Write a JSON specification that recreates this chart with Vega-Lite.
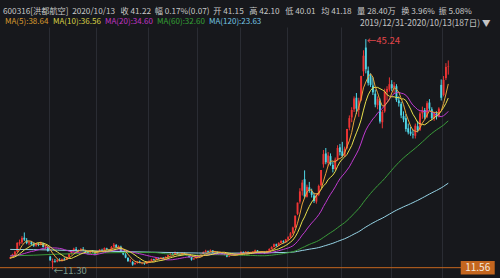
{
"$schema":"https://vega.github.io/schema/vega-lite/v6.json",
"width":470,"height":251,
"autosize":{"type":"none"},
"padding":{"left":0,"top":27,"right":30,"bottom":0},
"background":"#17181c",
"config":{"view":{"stroke":null},"font":"Noto Sans CJK SC","axis":{"labelFont":"Noto Sans CJK SC","titleFont":"Noto Sans CJK SC"},"legend":{"labelFont":"Noto Sans CJK SC"}},
"title":{"text":"600316[洪都航空]\u00a0\u00a02020/10/13\u00a0\u00a0\u00a0收\u00a041.22\u00a0\u00a0幅\u00a00.17%(0.07)\u00a0\u00a0开\u00a041.15\u00a0\u00a0\u00a0高\u00a042.10\u00a0\u00a0\u00a0低\u00a040.01\u00a0\u00a0\u00a0均\u00a041.18\u00a0\u00a0\u00a0量\u00a028.40万\u00a0\u00a0\u00a0换\u00a03.96%\u00a0\u00a0振\u00a05.08%","anchor":"start","frame":"group","color":"#c8c8c8","fontSize":8.2,"fontWeight":"normal","offset":2,"dx":3},
"datasets":{
"k":[
{"i":0,"o":12.95,"h":13.12,"l":12.85,"c":13.05,"m5":12.95,"m10":13.0,"m20":13.3,"m60":13.3,"m120":14.25},
{"i":1,"o":13.08,"h":13.62,"l":13.0,"c":13.52,"m5":13.1,"m10":13.05,"m20":13.32},
{"i":2,"o":13.5,"h":14.05,"l":13.42,"c":13.92,"m5":13.3,"m10":13.15,"m20":13.35},
{"i":3,"o":13.95,"h":15.31,"l":13.88,"c":15.21,"m5":13.7,"m10":13.35,"m20":13.4},
{"i":4,"o":15.1,"h":15.7,"l":14.8,"c":15.35,"m5":14.21,"m10":13.6,"m20":13.45},
{"i":5,"o":15.3,"h":16.2,"l":15.05,"c":15.95,"m5":14.79,"m10":13.87,"m20":13.55},
{"i":6,"o":15.98,"h":16.75,"l":15.5,"c":15.7,"m5":15.23,"m10":14.17,"m20":13.65},
{"i":7,"o":15.6,"h":15.92,"l":15.02,"c":15.2,"m5":15.48,"m10":14.39,"m20":13.75},
{"i":8,"o":15.15,"h":15.5,"l":14.85,"c":15.32,"m5":15.5,"m10":14.6,"m20":13.85},
{"i":9,"o":15.3,"h":15.48,"l":14.92,"c":15.02,"m5":15.44,"m10":14.83,"m20":13.95},
{"i":10,"o":15.0,"h":15.28,"l":14.62,"c":14.8,"m5":15.21,"m10":15.0,"m20":14.0,"m60":13.4,"m120":14.22},
{"i":11,"o":14.82,"h":15.2,"l":14.65,"c":15.05,"m5":15.08,"m10":15.16,"m20":14.11},
{"i":12,"o":15.02,"h":15.22,"l":14.72,"c":14.9,"m5":15.02,"m10":15.25,"m20":14.2},
{"i":13,"o":14.92,"h":15.4,"l":14.85,"c":15.22,"m5":15.0,"m10":15.25,"m20":14.3},
{"i":14,"o":15.15,"h":15.22,"l":14.52,"c":14.62,"m5":14.92,"m10":15.18,"m20":14.39},
{"i":15,"o":14.6,"h":14.92,"l":14.3,"c":14.72,"m5":14.9,"m10":15.06,"m20":14.47},
{"i":16,"o":14.65,"h":14.7,"l":13.9,"c":14.02,"m5":14.7,"m10":14.89,"m20":14.53},
{"i":17,"o":13.2,"h":13.3,"l":12.62,"c":12.62,"m5":14.24,"m10":14.63,"m20":14.51},
{"i":18,"o":12.35,"h":12.9,"l":11.3,"c":12.55,"m5":13.71,"m10":14.36,"m20":14.48},
{"i":19,"o":12.55,"h":12.85,"l":12.3,"c":12.45,"m5":13.27,"m10":14.1,"m20":14.47},
{"i":20,"o":12.45,"h":12.8,"l":12.35,"c":12.7,"m5":12.87,"m10":13.89,"m20":14.45,"m60":13.55,"m120":14.15},
{"i":21,"o":12.7,"h":12.95,"l":12.5,"c":12.6,"m5":12.58,"m10":13.64,"m20":14.4},
{"i":22,"o":12.58,"h":12.9,"l":12.45,"c":12.82,"m5":12.62,"m10":13.43,"m20":14.34},
{"i":23,"o":12.85,"h":13.05,"l":12.6,"c":12.75,"m5":12.66,"m10":13.19,"m20":14.22},
{"i":24,"o":12.75,"h":13.2,"l":12.7,"c":13.1,"m5":12.79,"m10":13.03,"m20":14.11},
{"i":25,"o":13.15,"h":13.7,"l":13.05,"c":13.62,"m5":12.98,"m10":12.93,"m20":14.0},
{"i":26,"o":13.65,"h":14.1,"l":13.5,"c":14.0,"m5":13.26,"m10":12.92,"m20":13.91},
{"i":27,"o":14.0,"h":14.5,"l":13.85,"c":14.35,"m5":13.56,"m10":13.09,"m20":13.86},
{"i":28,"o":14.3,"h":14.62,"l":13.9,"c":14.05,"m5":13.82,"m10":13.24,"m20":13.8},
{"i":29,"o":14.05,"h":14.25,"l":13.8,"c":14.12,"m5":14.03,"m10":13.41,"m20":13.76},
{"i":30,"o":14.1,"h":14.45,"l":13.95,"c":14.28,"m5":14.16,"m10":13.57,"m20":13.73,"m60":13.65,"m120":14.05},
{"i":31,"o":14.25,"h":14.6,"l":14.0,"c":14.15,"m5":14.19,"m10":13.73,"m20":13.69},
{"i":32,"o":14.12,"h":14.2,"l":13.75,"c":13.88,"m5":14.1,"m10":13.83,"m20":13.63},
{"i":33,"o":13.85,"h":13.95,"l":13.52,"c":13.7,"m5":14.03,"m10":13.93,"m20":13.56},
{"i":34,"o":13.7,"h":14.05,"l":13.6,"c":13.95,"m5":13.99,"m10":14.01,"m20":13.52},
{"i":35,"o":13.95,"h":14.15,"l":13.75,"c":13.9,"m5":13.92,"m10":14.04,"m20":13.49},
{"i":36,"o":13.85,"h":13.92,"l":13.4,"c":13.55,"m5":13.8,"m10":14.0,"m20":13.46},
{"i":37,"o":13.55,"h":14.05,"l":13.5,"c":13.98,"m5":13.82,"m10":13.96,"m20":13.53},
{"i":38,"o":14.0,"h":14.3,"l":13.85,"c":14.2,"m5":13.92,"m10":13.98,"m20":13.61},
{"i":39,"o":14.18,"h":14.35,"l":13.95,"c":14.1,"m5":13.95,"m10":13.97,"m20":13.69},
{"i":40,"o":14.12,"h":14.55,"l":14.05,"c":14.45,"m5":14.06,"m10":13.99,"m20":13.78,"m60":13.74,"m120":13.98},
{"i":41,"o":14.4,"h":14.5,"l":14.1,"c":14.22,"m5":14.19,"m10":14.0,"m20":13.87},
{"i":42,"o":14.1,"h":14.25,"l":13.85,"c":14.02,"m5":14.2,"m10":14.01,"m20":13.92},
{"i":43,"o":14.05,"h":14.75,"l":14.0,"c":14.62,"m5":14.28,"m10":14.1,"m20":14.02},
{"i":44,"o":14.65,"h":15.2,"l":14.55,"c":14.95,"m5":14.45,"m10":14.2,"m20":14.11},
{"i":45,"o":14.9,"h":15.05,"l":14.45,"c":14.55,"m5":14.47,"m10":14.27,"m20":14.16},
{"i":46,"o":14.4,"h":14.85,"l":14.3,"c":14.7,"m5":14.57,"m10":14.38,"m20":14.19},
{"i":47,"o":14.65,"h":14.8,"l":13.85,"c":13.95,"m5":14.55,"m10":14.38,"m20":14.17},
{"i":48,"o":13.9,"h":14.05,"l":13.4,"c":13.52,"m5":14.33,"m10":14.31,"m20":14.15},
{"i":49,"o":13.5,"h":13.7,"l":12.95,"c":13.05,"m5":13.95,"m10":14.2,"m20":14.09},
{"i":50,"o":13.0,"h":13.1,"l":12.4,"c":12.55,"m5":13.55,"m10":14.01,"m20":14.0,"m60":13.8,"m120":13.92},
{"i":51,"o":12.5,"h":12.85,"l":12.35,"c":12.62,"m5":13.14,"m10":13.86,"m20":13.93},
{"i":52,"o":12.4,"h":12.55,"l":11.85,"c":12.02,"m5":12.75,"m10":13.65,"m20":13.83},
{"i":53,"o":12.1,"h":12.35,"l":11.95,"c":12.25,"m5":12.5,"m10":13.42,"m20":13.76},
{"i":54,"o":12.3,"h":12.55,"l":12.15,"c":12.4,"m5":12.37,"m10":13.16,"m20":13.68},
{"i":55,"o":12.45,"h":12.6,"l":12.2,"c":12.32,"m5":12.32,"m10":12.94,"m20":13.61},
{"i":56,"o":12.25,"h":12.4,"l":12.05,"c":12.28,"m5":12.25,"m10":12.7,"m20":13.54},
{"i":57,"o":12.2,"h":12.3,"l":11.98,"c":12.12,"m5":12.27,"m10":12.51,"m20":13.45},
{"i":58,"o":12.15,"h":12.5,"l":12.1,"c":12.42,"m5":12.31,"m10":12.41,"m20":13.36},
{"i":59,"o":12.4,"h":12.62,"l":12.3,"c":12.55,"m5":12.34,"m10":12.36,"m20":13.28,"m60":13.81},
{"i":60,"o":12.55,"h":12.9,"l":12.5,"c":12.82,"m5":12.44,"m10":12.38,"m20":13.2,"m60":13.81,"m120":13.85},
{"i":61,"o":12.8,"h":12.88,"l":12.6,"c":12.7,"m5":12.52,"m10":12.39,"m20":13.13,"m60":13.79},
{"i":62,"o":12.75,"h":13.1,"l":12.7,"c":13.02,"m5":12.7,"m10":12.49,"m20":13.07,"m60":13.78},
{"i":63,"o":13.0,"h":13.05,"l":12.8,"c":12.9,"m5":12.8,"m10":12.56,"m20":12.99,"m60":13.74},
{"i":64,"o":12.92,"h":13.12,"l":12.85,"c":13.05,"m5":12.9,"m10":12.62,"m20":12.89,"m60":13.7},
{"i":65,"o":13.05,"h":13.1,"l":12.82,"c":12.92,"m5":12.92,"m10":12.68,"m20":12.81,"m60":13.65},
{"i":66,"o":12.92,"h":13.22,"l":12.88,"c":13.15,"m5":13.01,"m10":12.77,"m20":12.74,"m60":13.61},
{"i":67,"o":13.15,"h":13.5,"l":13.1,"c":13.42,"m5":13.09,"m10":12.9,"m20":12.71,"m60":13.58},
{"i":68,"o":13.45,"h":13.75,"l":13.35,"c":13.62,"m5":13.23,"m10":13.02,"m20":12.72,"m60":13.55},
{"i":69,"o":13.6,"h":13.7,"l":13.4,"c":13.5,"m5":13.32,"m10":13.11,"m20":12.74,"m60":13.52},
{"i":70,"o":13.5,"h":13.95,"l":13.45,"c":13.82,"m5":13.5,"m10":13.21,"m20":12.8,"m60":13.51,"m120":13.78},
{"i":71,"o":13.8,"h":13.88,"l":13.5,"c":13.6,"m5":13.59,"m10":13.3,"m20":12.85,"m60":13.48},
{"i":72,"o":13.55,"h":13.62,"l":13.3,"c":13.4,"m5":13.59,"m10":13.34,"m20":12.92,"m60":13.46},
{"i":73,"o":13.4,"h":13.8,"l":13.38,"c":13.72,"m5":13.61,"m10":13.42,"m20":12.99,"m60":13.43},
{"i":74,"o":13.7,"h":13.78,"l":13.5,"c":13.6,"m5":13.63,"m10":13.48,"m20":13.05,"m60":13.42},
{"i":75,"o":13.58,"h":13.65,"l":13.35,"c":13.42,"m5":13.55,"m10":13.53,"m20":13.11,"m60":13.39},
{"i":76,"o":13.4,"h":13.45,"l":13.05,"c":13.1,"m5":13.45,"m10":13.52,"m20":13.15,"m60":13.38},
{"i":77,"o":13.1,"h":13.15,"l":12.6,"c":12.75,"m5":13.32,"m10":13.46,"m20":13.18,"m60":13.38},
{"i":78,"o":12.8,"h":13.0,"l":12.7,"c":12.92,"m5":13.16,"m10":13.39,"m20":13.21,"m60":13.39},
{"i":79,"o":12.95,"h":13.2,"l":12.88,"c":13.12,"m5":13.06,"m10":13.35,"m20":13.23,"m60":13.4},
{"i":80,"o":13.15,"h":13.4,"l":13.1,"c":13.32,"m5":13.04,"m10":13.3,"m20":13.26,"m60":13.41,"m120":13.72},
{"i":81,"o":13.35,"h":13.6,"l":13.28,"c":13.52,"m5":13.13,"m10":13.29,"m20":13.3,"m60":13.42},
{"i":82,"o":13.55,"h":13.95,"l":13.5,"c":13.85,"m5":13.35,"m10":13.34,"m20":13.34,"m60":13.44},
{"i":83,"o":13.85,"h":14.2,"l":13.8,"c":14.05,"m5":13.57,"m10":13.37,"m20":13.4,"m60":13.46},
{"i":84,"o":14.02,"h":14.1,"l":13.8,"c":13.9,"m5":13.73,"m10":13.4,"m20":13.44,"m60":13.48},
{"i":85,"o":13.92,"h":14.25,"l":13.88,"c":14.12,"m5":13.89,"m10":13.47,"m20":13.5,"m60":13.48},
{"i":86,"o":14.1,"h":14.15,"l":13.75,"c":13.8,"m5":13.94,"m10":13.54,"m20":13.53,"m60":13.48},
{"i":87,"o":13.82,"h":14.0,"l":13.7,"c":13.92,"m5":13.96,"m10":13.66,"m20":13.56,"m60":13.47},
{"i":88,"o":13.9,"h":13.95,"l":13.6,"c":13.7,"m5":13.89,"m10":13.73,"m20":13.56,"m60":13.47},
{"i":89,"o":13.72,"h":13.9,"l":13.65,"c":13.82,"m5":13.87,"m10":13.8,"m20":13.58,"m60":13.46},
{"i":90,"o":13.8,"h":13.85,"l":13.52,"c":13.6,"m5":13.77,"m10":13.83,"m20":13.57,"m60":13.45,"m120":13.7},
{"i":91,"o":13.58,"h":13.65,"l":13.4,"c":13.5,"m5":13.71,"m10":13.83,"m20":13.56,"m60":13.44},
{"i":92,"o":13.45,"h":13.5,"l":13.1,"c":13.2,"m5":13.56,"m10":13.76,"m20":13.55,"m60":13.43},
{"i":93,"o":13.2,"h":13.38,"l":13.12,"c":13.3,"m5":13.48,"m10":13.69,"m20":13.53,"m60":13.42},
{"i":94,"o":13.32,"h":13.55,"l":13.28,"c":13.5,"m5":13.42,"m10":13.65,"m20":13.53,"m60":13.42},
{"i":95,"o":13.5,"h":13.55,"l":13.32,"c":13.4,"m5":13.38,"m10":13.58,"m20":13.53,"m60":13.41},
{"i":96,"o":13.42,"h":13.58,"l":13.35,"c":13.52,"m5":13.38,"m10":13.55,"m20":13.55,"m60":13.41},
{"i":97,"o":13.52,"h":13.7,"l":13.45,"c":13.62,"m5":13.47,"m10":13.52,"m20":13.59,"m60":13.4},
{"i":98,"o":13.65,"h":13.95,"l":13.6,"c":13.9,"m5":13.59,"m10":13.54,"m20":13.64,"m60":13.4},
{"i":99,"o":13.88,"h":13.95,"l":13.7,"c":13.78,"m5":13.64,"m10":13.53,"m20":13.67,"m60":13.39},
{"i":100,"o":13.8,"h":14.0,"l":13.75,"c":13.92,"m5":13.75,"m10":13.57,"m20":13.7,"m60":13.38,"m120":13.72},
{"i":101,"o":13.9,"h":13.95,"l":13.62,"c":13.7,"m5":13.78,"m10":13.58,"m20":13.71,"m60":13.37},
{"i":102,"o":13.72,"h":13.88,"l":13.65,"c":13.8,"m5":13.82,"m10":13.65,"m20":13.71,"m60":13.37},
{"i":103,"o":13.8,"h":14.0,"l":13.75,"c":13.92,"m5":13.82,"m10":13.71,"m20":13.7,"m60":13.36},
{"i":104,"o":13.92,"h":14.22,"l":13.88,"c":14.12,"m5":13.89,"m10":13.77,"m20":13.71,"m60":13.34},
{"i":105,"o":14.1,"h":14.15,"l":13.85,"c":13.9,"m5":13.89,"m10":13.82,"m20":13.7,"m60":13.33},
{"i":106,"o":13.88,"h":13.95,"l":13.7,"c":13.8,"m5":13.91,"m10":13.85,"m20":13.7,"m60":13.32},
{"i":107,"o":13.78,"h":13.98,"l":13.72,"c":13.92,"m5":13.93,"m10":13.88,"m20":13.7,"m60":13.32},
{"i":108,"o":13.9,"h":13.95,"l":13.62,"c":13.7,"m5":13.89,"m10":13.86,"m20":13.7,"m60":13.32},
{"i":109,"o":13.72,"h":14.08,"l":13.7,"c":14.02,"m5":13.87,"m10":13.88,"m20":13.71,"m60":13.34},
{"i":110,"o":14.05,"h":14.42,"l":14.0,"c":14.32,"m5":13.95,"m10":13.92,"m20":13.75,"m60":13.37,"m120":13.76},
{"i":111,"o":14.3,"h":14.7,"l":14.25,"c":14.62,"m5":14.12,"m10":14.02,"m20":13.8,"m60":13.4},
{"i":112,"o":14.6,"h":15.12,"l":14.55,"c":15.02,"m5":14.34,"m10":14.14,"m20":13.9,"m60":13.45},
{"i":113,"o":15.0,"h":15.1,"l":14.65,"c":14.8,"m5":14.56,"m10":14.23,"m20":13.97,"m60":13.49},
{"i":114,"o":14.82,"h":15.3,"l":14.75,"c":15.22,"m5":14.8,"m10":14.34,"m20":14.06,"m60":13.54},
{"i":115,"o":15.2,"h":15.62,"l":15.1,"c":15.5,"m5":15.03,"m10":14.49,"m20":14.16,"m60":13.59},
{"i":116,"o":15.45,"h":15.6,"l":15.15,"c":15.3,"m5":15.17,"m10":14.65,"m20":14.25,"m60":13.64},
{"i":117,"o":15.32,"h":15.8,"l":15.25,"c":15.72,"m5":15.31,"m10":14.83,"m20":14.36,"m60":13.7},
{"i":118,"o":15.75,"h":16.2,"l":15.6,"c":16.05,"m5":15.56,"m10":15.06,"m20":14.46,"m60":13.76},
{"i":119,"o":16.05,"h":16.8,"l":15.95,"c":16.62,"m5":15.84,"m10":15.32,"m20":14.6,"m60":13.83,"m120":13.82},
{"i":120,"o":16.65,"h":17.6,"l":16.5,"c":17.48,"m5":16.23,"m10":15.63,"m20":14.78,"m60":13.91,"m120":13.86},
{"i":121,"o":17.5,"h":19.23,"l":17.4,"c":19.23,"m5":17.02,"m10":16.1,"m20":15.06,"m60":14.02,"m120":13.9},
{"i":122,"o":19.5,"h":21.15,"l":19.3,"c":21.15,"m5":18.11,"m10":16.71,"m20":15.43,"m60":14.15,"m120":13.96},
{"i":123,"o":21.3,"h":23.27,"l":21.0,"c":22.8,"m5":19.46,"m10":17.51,"m20":15.87,"m60":14.32,"m120":14.03},
{"i":124,"o":22.9,"h":24.5,"l":22.2,"c":24.1,"m5":20.95,"m10":18.4,"m20":16.37,"m60":14.5,"m120":14.1},
{"i":125,"o":24.6,"h":25.9,"l":21.8,"c":22.05,"m5":21.87,"m10":19.05,"m20":16.77,"m60":14.65,"m120":14.15},
{"i":126,"o":22.0,"h":23.8,"l":21.9,"c":23.5,"m5":22.72,"m10":19.87,"m20":17.26,"m60":14.83,"m120":14.22},
{"i":127,"o":23.4,"h":24.2,"l":22.6,"c":22.9,"m5":23.07,"m10":20.59,"m20":17.71,"m60":14.98,"m120":14.28},
{"i":128,"o":22.8,"h":23.2,"l":21.9,"c":22.3,"m5":22.97,"m10":21.22,"m20":18.14,"m60":15.13,"m120":14.34},
{"i":129,"o":22.2,"h":22.6,"l":21.1,"c":21.4,"m5":22.43,"m10":21.69,"m20":18.51,"m60":15.26,"m120":14.39},
{"i":130,"o":21.3,"h":22.5,"l":21.0,"c":22.3,"m5":22.48,"m10":22.18,"m20":18.91,"m60":15.4,"m120":14.45},
{"i":131,"o":22.3,"h":23.8,"l":22.1,"c":23.6,"m5":22.5,"m10":22.61,"m20":19.36,"m60":15.57,"m120":14.53},
{"i":132,"o":23.7,"h":25.96,"l":23.5,"c":25.96,"m5":23.11,"m10":23.09,"m20":19.9,"m60":15.78,"m120":14.62},
{"i":133,"o":26.8,"h":28.9,"l":26.3,"c":28.3,"m5":24.31,"m10":23.64,"m20":20.58,"m60":16.02,"m120":14.73},
{"i":134,"o":28.4,"h":29.2,"l":26.8,"c":27.1,"m5":25.45,"m10":23.94,"m20":21.17,"m60":16.25,"m120":14.83},
{"i":135,"o":27.0,"h":28.6,"l":26.5,"c":28.1,"m5":26.61,"m10":24.55,"m20":21.8,"m60":16.49,"m120":14.94},
{"i":136,"o":28.0,"h":28.4,"l":26.6,"c":26.8,"m5":27.25,"m10":24.88,"m20":22.38,"m60":16.72,"m120":15.05},
{"i":137,"o":26.7,"h":27.2,"l":25.6,"c":26.1,"m5":27.28,"m10":25.2,"m20":22.9,"m60":16.94,"m120":15.16},
{"i":138,"o":26.1,"h":27.8,"l":25.9,"c":27.5,"m5":27.12,"m10":25.72,"m20":23.47,"m60":17.18,"m120":15.29},
{"i":139,"o":27.5,"h":29.6,"l":27.3,"c":29.2,"m5":27.54,"m10":26.5,"m20":24.1,"m60":17.45,"m120":15.43},
{"i":140,"o":29.3,"h":29.8,"l":28.1,"c":28.6,"m5":27.64,"m10":27.13,"m20":24.66,"m60":17.71,"m120":15.56},
{"i":141,"o":28.7,"h":30.1,"l":27.8,"c":28.0,"m5":27.88,"m10":27.57,"m20":25.09,"m60":17.95,"m120":15.69},
{"i":142,"o":28.1,"h":29.4,"l":27.9,"c":29.1,"m5":28.48,"m10":27.88,"m20":25.49,"m60":18.2,"m120":15.82},
{"i":143,"o":29.2,"h":32.01,"l":29.0,"c":32.01,"m5":29.38,"m10":28.25,"m20":25.95,"m60":18.5,"m120":15.98},
{"i":144,"o":32.2,"h":34.0,"l":31.8,"c":33.6,"m5":30.26,"m10":28.9,"m20":26.42,"m60":18.83,"m120":16.15},
{"i":145,"o":33.7,"h":35.2,"l":33.0,"c":34.8,"m5":31.5,"m10":29.57,"m20":27.06,"m60":19.18,"m120":16.33},
{"i":146,"o":34.9,"h":36.8,"l":34.5,"c":36.5,"m5":33.2,"m10":30.54,"m20":27.71,"m60":19.55,"m120":16.52},
{"i":147,"o":36.6,"h":37.3,"l":34.2,"c":35.0,"m5":34.38,"m10":31.43,"m20":28.32,"m60":19.9,"m120":16.69},
{"i":148,"o":34.8,"h":36.6,"l":33.8,"c":36.2,"m5":35.22,"m10":32.3,"m20":29.01,"m60":20.28,"m120":16.87},
{"i":149,"o":36.3,"h":39.82,"l":36.1,"c":39.82,"m5":36.46,"m10":33.36,"m20":29.93,"m60":20.71,"m120":17.09},
{"i":150,"o":40.5,"h":43.6,"l":39.8,"c":42.8,"m5":38.06,"m10":34.78,"m20":30.96,"m60":21.2,"m120":17.33},
{"i":151,"o":44.0,"h":45.24,"l":40.2,"c":40.8,"m5":38.92,"m10":36.06,"m20":31.82,"m60":21.65,"m120":17.55},
{"i":152,"o":40.6,"h":41.2,"l":38.4,"c":38.8,"m5":39.68,"m10":37.03,"m20":32.46,"m60":22.08,"m120":17.76},
{"i":153,"o":39.8,"h":40.2,"l":38.2,"c":38.5,"m5":40.14,"m10":37.68,"m20":32.97,"m60":22.5,"m120":17.96},
{"i":154,"o":38.4,"h":39.6,"l":37.0,"c":37.4,"m5":39.66,"m10":38.06,"m20":33.48,"m60":22.9,"m120":18.16},
{"i":155,"o":37.2,"h":37.8,"l":35.2,"c":35.6,"m5":38.22,"m10":38.14,"m20":33.86,"m60":23.27,"m120":18.34},
{"i":156,"o":35.5,"h":36.8,"l":34.9,"c":36.4,"m5":37.34,"m10":38.13,"m20":34.34,"m60":23.65,"m120":18.53},
{"i":157,"o":36.2,"h":36.5,"l":32.8,"c":33.1,"m5":36.2,"m10":37.94,"m20":34.69,"m60":23.98,"m120":18.69},
{"i":158,"o":33.0,"h":34.8,"l":32.1,"c":34.5,"m5":35.4,"m10":37.77,"m20":35.04,"m60":24.32,"m120":18.86},
{"i":159,"o":34.6,"h":37.95,"l":34.4,"c":37.5,"m5":35.42,"m10":37.54,"m20":35.45,"m60":24.71,"m120":19.05},
{"i":160,"o":37.4,"h":38.3,"l":36.2,"c":37.9,"m5":35.88,"m10":37.05,"m20":35.92,"m60":25.11,"m120":19.25},
{"i":161,"o":37.8,"h":39.6,"l":37.5,"c":38.6,"m5":36.32,"m10":36.83,"m20":36.45,"m60":25.53,"m120":19.45},
{"i":162,"o":38.6,"h":39.2,"l":37.6,"c":38.0,"m5":37.3,"m10":36.75,"m20":36.89,"m60":25.93,"m120":19.65},
{"i":163,"o":38.1,"h":38.9,"l":37.2,"c":38.4,"m5":38.08,"m10":36.74,"m20":37.21,"m60":26.34,"m120":19.85},
{"i":164,"o":38.3,"h":38.6,"l":36.0,"c":36.3,"m5":37.84,"m10":36.63,"m20":37.35,"m60":26.71,"m120":20.03},
{"i":165,"o":36.2,"h":36.8,"l":35.3,"c":35.8,"m5":37.42,"m10":36.65,"m20":37.4,"m60":27.08,"m120":20.2},
{"i":166,"o":35.7,"h":36.0,"l":33.6,"c":34.0,"m5":36.5,"m10":36.41,"m20":37.27,"m60":27.41,"m120":20.36},
{"i":167,"o":33.9,"h":34.6,"l":33.0,"c":33.4,"m5":35.58,"m10":36.44,"m20":37.19,"m60":27.74,"m120":20.53},
{"i":168,"o":33.6,"h":34.2,"l":31.6,"c":32.0,"m5":34.3,"m10":36.19,"m20":36.98,"m60":28.04,"m120":20.68},
{"i":169,"o":32.1,"h":32.8,"l":31.2,"c":31.5,"m5":33.34,"m10":35.59,"m20":36.57,"m60":28.33,"m120":20.83},
{"i":170,"o":31.6,"h":32.3,"l":31.0,"c":31.3,"m5":32.44,"m10":34.93,"m20":35.99,"m60":28.62,"m120":20.99},
{"i":171,"o":31.2,"h":31.9,"l":30.6,"c":31.1,"m5":31.84,"m10":34.17,"m20":35.5,"m60":28.89,"m120":21.15},
{"i":172,"o":31.0,"h":32.8,"l":30.6,"c":32.5,"m5":31.66,"m10":33.62,"m20":35.19,"m60":29.18,"m120":21.32},
{"i":173,"o":32.4,"h":33.2,"l":31.5,"c":31.8,"m5":31.62,"m10":32.96,"m20":34.85,"m60":29.47,"m120":21.48},
{"i":174,"o":31.9,"h":34.6,"l":31.7,"c":34.3,"m5":32.18,"m10":32.76,"m20":34.7,"m60":29.78,"m120":21.66},
{"i":175,"o":34.3,"h":35.3,"l":33.5,"c":34.8,"m5":32.88,"m10":32.66,"m20":34.66,"m60":30.1,"m120":21.85},
{"i":176,"o":34.8,"h":35.1,"l":33.4,"c":33.7,"m5":33.4,"m10":32.62,"m20":34.52,"m60":30.41,"m120":22.03},
{"i":177,"o":33.8,"h":36.1,"l":33.6,"c":35.8,"m5":34.06,"m10":32.86,"m20":34.65,"m60":30.75,"m120":22.22},
{"i":178,"o":35.9,"h":36.4,"l":34.7,"c":35.0,"m5":34.7,"m10":33.16,"m20":34.68,"m60":31.06,"m120":22.41},
{"i":179,"o":34.9,"h":35.2,"l":33.3,"c":33.6,"m5":34.56,"m10":33.37,"m20":34.48,"m60":31.35,"m120":22.59},
{"i":180,"o":33.5,"h":34.5,"l":33.2,"c":34.2,"m5":34.44,"m10":33.66,"m20":34.3,"m60":31.62,"m120":22.77},
{"i":181,"o":34.3,"h":34.6,"l":33.4,"c":33.8,"m5":34.46,"m10":33.93,"m20":34.05,"m60":31.87,"m120":22.94},
{"i":182,"o":33.9,"h":35.2,"l":33.7,"c":35.0,"m5":34.3,"m10":34.18,"m20":33.9,"m60":32.1,"m120":23.13},
{"i":183,"o":38.5,"h":39.3,"l":36.2,"c":36.6,"m5":34.62,"m10":34.66,"m20":33.81,"m60":32.33,"m120":23.32},
{"i":184,"o":37.0,"h":39.8,"l":36.8,"c":39.23,"m5":35.75,"m10":35.16,"m20":33.96,"m60":32.58,"m120":23.54},
{"i":185,"o":39.5,"h":41.7,"l":39.2,"c":41.15,"m5":37.14,"m10":35.79,"m20":34.23,"m60":32.9,"m120":23.78},
{"i":186,"o":41.15,"h":42.1,"l":40.01,"c":41.22,"m5":38.64,"m10":36.56,"m20":34.6,"m60":33.19,"m120":24.01}
],
"lv":[{"p":11.56,"t":"11.56"}],
"ann":[{"i":151,"p":45.24,"t":"←45.24"},{"i":18,"p":11.3,"t":"←11.30"}]
},
"layer":[
{"data":{"name":"lv"},"mark":{"type":"rule","color":"#c4661f","strokeWidth":1},
 "encoding":{"y":{"field":"p","type":"quantitative","scale":{"domain":[10.04,47.03],"nice":false,"zero":false},"axis":null}}},
{"data":{"name":"k"},"mark":{"type":"rule","strokeWidth":1},
 "encoding":{
  "x":{"field":"i","type":"quantitative","scale":{"domain":[-2.2,193.1],"nice":false,"zero":false},
   "axis":{"orient":"top","values":[16.5,36.5,58.5,79.5,97.5,117.5,140.5,161.5,183.5],"grid":true,"gridColor":"#2a2c33","labels":false,"ticks":false,"domain":false,
    "title":"2019/12/31-2020/10/13(187日) ▼","titleColor":"#c4c4c4","titleFontSize":8.5,"titleFontWeight":"normal","titleAlign":"right","titleAnchor":"end","titleX":490,"titleY":-5,"titleBaseline":"middle"}},
  "y":{"field":"l","type":"quantitative",
   "axis":{"orient":"right","values":[18,25,32,39,46],"format":".2f","grid":true,"gridColor":"#2a2c33","ticks":false,"domain":true,"domainColor":"#34363c","labelColor":"#a4a4a4","labelFontSize":10,"labelPadding":3,"title":null}},
  "y2":{"field":"h"},
  "color":{"condition":{"test":"datum.c >= datum.o","value":"#ee3434"},"value":"#4fd6e6"}}},
{"data":{"name":"k"},"mark":{"type":"bar","size":1.9},
 "encoding":{
  "x":{"field":"i","type":"quantitative"},
  "y":{"field":"o","type":"quantitative"},
  "y2":{"field":"c"},
  "color":{"condition":{"test":"datum.c >= datum.o","value":"#ee3434"},"value":"#4fd6e6"}}},
{"data":{"name":"k"},
 "transform":[{"fold":["m120","m60","m20","m10","m5"],"as":["ma","v"]},{"filter":"isValid(datum.v)"}],
 "mark":{"type":"line","strokeWidth":1},
 "encoding":{
  "x":{"field":"i","type":"quantitative"},
  "y":{"field":"v","type":"quantitative"},
  "color":{"field":"ma","type":"nominal",
   "scale":{"domain":["m5","m10","m20","m60","m120"],"range":["#e6a43a","#e8e04c","#c03ad0","#3a9c3a","#96d4e6"]},
   "legend":{"orient":"none","legendX":5,"legendY":-9,"direction":"horizontal","columns":5,"title":null,"padding":0,"gridAlign":"each",
    "symbolSize":0,"symbolStrokeWidth":0,"symbolOpacity":0,"labelOffset":-8,"columnPadding":4,"labelFontSize":8,"labelLimit":200,
    "labelExpr":"datum.label == 'm5' ? 'MA(5):38.64' : datum.label == 'm10' ? 'MA(10):36.56' : datum.label == 'm20' ? 'MA(20):34.60' : datum.label == 'm60' ? 'MA(60):32.60' : 'MA(120):23.63'",
    "labelColor":{"expr":"datum.value == 'm5' ? '#d99a2c' : datum.value == 'm10' ? '#d8d044' : datum.value == 'm20' ? '#c034c4' : datum.value == 'm60' ? '#34a034' : '#74c4e2'"}}}}},
{"data":{"name":"ann"},"mark":{"type":"text","align":"left","baseline":"middle","fontSize":9.5,"dx":1,"dy":2},
 "encoding":{
  "x":{"field":"i","type":"quantitative"},
  "y":{"field":"p","type":"quantitative"},
  "text":{"field":"t"},
  "color":{"condition":{"test":"datum.p > 30","value":"#e0464a"},"value":"#7f9c8c"}}},
{"data":{"name":"lv"},"mark":{"type":"point","shape":"M-1,-0.4L1,-0.4L1,0.4L-1,0.4Z","filled":true,"size":1156,"color":"#c4661f","opacity":1,"clip":false},
 "encoding":{"x":{"datum":198.5,"type":"quantitative"},"y":{"field":"p","type":"quantitative"}}},
{"data":{"name":"lv"},"mark":{"type":"text","color":"#f4e8dc","fontSize":10,"align":"center","baseline":"middle","clip":false},
 "encoding":{"x":{"datum":198.5,"type":"quantitative"},"y":{"field":"p","type":"quantitative"},"text":{"field":"t"}}}
]
}
